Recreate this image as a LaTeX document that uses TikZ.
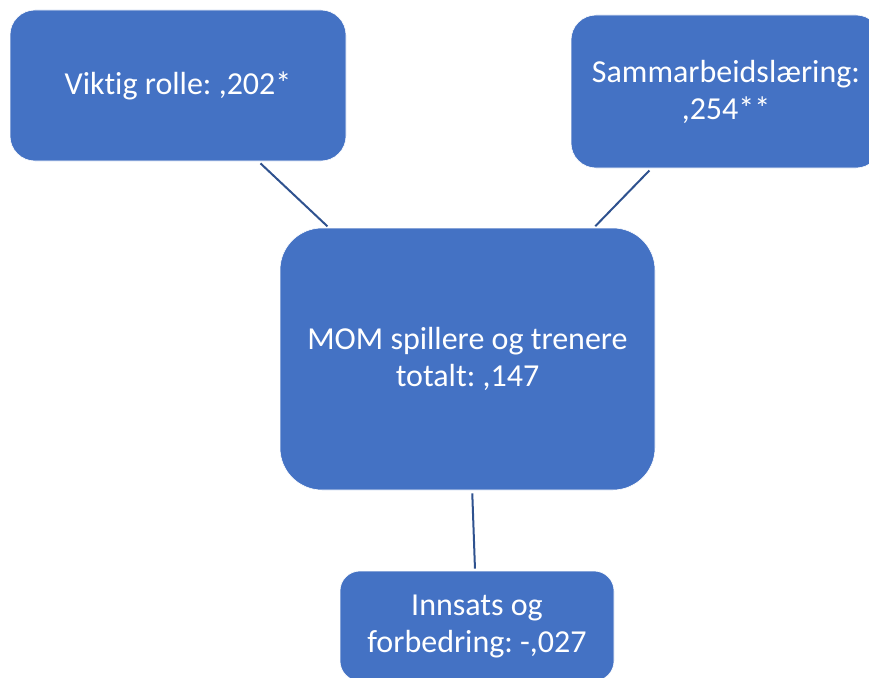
\documentclass[tikz,border=0pt]{standalone}
\usepackage{fontspec}
\setmainfont[Ligatures=NoCommon]{Carlito}
\definecolor{boxblue}{HTML}{4472C4}
\definecolor{linkblue}{HTML}{2F528F}
\frenchspacing
\begin{document}
\begin{tikzpicture}[x=1pt,y=-1pt,
  box/.style={fill=boxblue, draw=white, line width=0.6pt, text=white,
    align=center, inner sep=0pt, font=\fontsize{32}{37}\selectfont},
  link/.style={draw=linkblue, line width=2pt, shorten <=3pt, shorten >=2pt}]
\useasboundingbox (0,0) rectangle (869,677);
\clip (0,0) rectangle (869,677);
\node[box, minimum width=336pt, minimum height=151pt, rounded corners=25pt] (A) at (178,85.5) {Viktig rolle: ,202*};
\node[box, minimum width=310pt, minimum height=153pt, rounded corners=25pt] (B) at (726,91.5) {Sammarbeidslæring:\\,254**};
\node[box, minimum width=375pt, minimum height=262pt, rounded corners=42pt] (C) at (467.5,359) {MOM spillere og trenere\\totalt: ,147};
\node[box, minimum width=274pt, minimum height=110pt, rounded corners=20pt] (D) at (477,626) {Innsats og\\forbedring: -,027};
\draw[link] (A) -- (C);
\draw[link] (B) -- (C);
\draw[link] (C) -- (D);
\end{tikzpicture}
\end{document}
